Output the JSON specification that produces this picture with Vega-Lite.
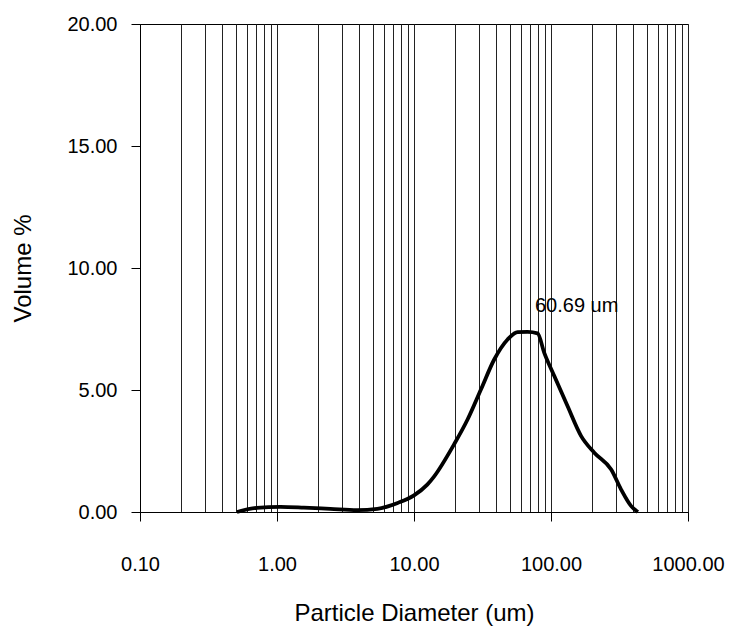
{
  "$schema": "https://vega.github.io/schema/vega-lite/v6.json",
  "width": 548,
  "height": 488,
  "autosize": {"type": "none"},
  "padding": {"left": 140, "top": 24, "right": 42, "bottom": 119},
  "background": "white",
  "config": {
    "font": "Liberation Sans",
    "view": {"stroke": "black", "strokeWidth": 1},
    "axis": {"labelColor": "black", "titleColor": "black", "domainColor": "black", "tickColor": "black", "titleFontWeight": "normal"}
  },
  "layer": [
    {
      "data": {"values": [
        {"diameter": 0.51, "volume": 0},
        {"diameter": 0.71, "volume": 0.17},
        {"diameter": 1.06, "volume": 0.21},
        {"diameter": 1.57, "volume": 0.18},
        {"diameter": 2.45, "volume": 0.13},
        {"diameter": 3.85, "volume": 0.08},
        {"diameter": 5.4, "volume": 0.13},
        {"diameter": 7.6, "volume": 0.37},
        {"diameter": 10, "volume": 0.68},
        {"diameter": 12.5, "volume": 1.12},
        {"diameter": 14.0, "volume": 1.45},
        {"diameter": 19.6, "volume": 2.77},
        {"diameter": 24.6, "volume": 3.79},
        {"diameter": 30.8, "volume": 5.02},
        {"diameter": 38.5, "volume": 6.25},
        {"diameter": 48.2, "volume": 7.07},
        {"diameter": 57.0, "volume": 7.37},
        {"diameter": 67.5, "volume": 7.38},
        {"diameter": 79.8, "volume": 7.32},
        {"diameter": 89.3, "volume": 6.52},
        {"diameter": 105.7, "volume": 5.57},
        {"diameter": 132, "volume": 4.34},
        {"diameter": 166, "volume": 3.11},
        {"diameter": 207, "volume": 2.43},
        {"diameter": 275, "volume": 1.74},
        {"diameter": 325, "volume": 0.92},
        {"diameter": 385, "volume": 0.24},
        {"diameter": 431, "volume": 0}
      ]},
      "mark": {"type": "line", "color": "black", "strokeWidth": 3.8, "interpolate": "monotone"},
      "encoding": {
        "x": {
          "field": "diameter", "type": "quantitative",
          "scale": {"type": "log", "domain": [0.1, 1000], "nice": false},
          "axis": {
            "title": "Particle Diameter (um)",
            "titleFontSize": 24,
            "titlePadding": 27,
            "values": [0.1,0.2,0.3,0.4,0.5,0.6,0.7,0.8,0.9,1,2,3,4,5,6,7,8,9,10,20,30,40,50,60,70,80,90,100,200,300,400,500,600,700,800,900,1000],
            "format": ".2f",
            "labelExpr": "indexof(['0.10','1.00','10.00','100.00','1000.00'], datum.label) >= 0 ? datum.label : ''",
            "labelOverlap": false,
            "labelBound": false,
            "labelFlush": false,
            "labelFontSize": 20,
            "labelPadding": 33,
            "tickSize": 9,
            "tickOpacity": {"condition": {"test": "indexof([0.1,1,10,100,1000], datum.value) >= 0", "value": 1}, "value": 0},
            "grid": true,
            "gridColor": "#222",
            "gridOpacity": 1,
            "gridWidth": 1
          }
        },
        "y": {
          "field": "volume", "type": "quantitative",
          "scale": {"domain": [0, 20], "nice": false},
          "axis": {
            "title": "Volume %",
            "titleFontSize": 24,
            "titlePadding": 31,
            "values": [0, 5, 10, 15, 20],
            "format": ".2f",
            "labelFontSize": 20,
            "labelPadding": 14,
            "tickSize": 9,
            "grid": false,
            "labelOverlap": false,
            "labelBound": false,
            "labelFlush": false
          }
        }
      }
    },
    {
      "data": {"values": [{"diameter": 76.4, "volume": 8.43, "label": "60.69 um"}]},
      "mark": {"type": "text", "align": "left", "baseline": "middle", "fontSize": 20, "color": "black"},
      "encoding": {
        "x": {"field": "diameter", "type": "quantitative"},
        "y": {"field": "volume", "type": "quantitative"},
        "text": {"field": "label"}
      }
    }
  ]
}
